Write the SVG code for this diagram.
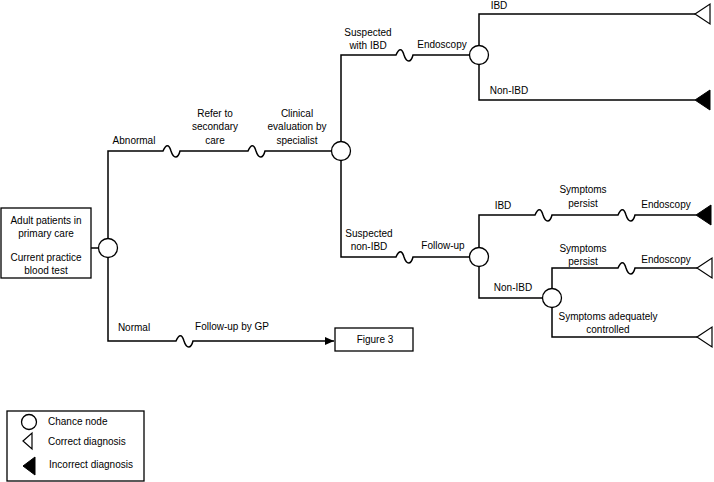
<svg xmlns="http://www.w3.org/2000/svg" width="714" height="482" viewBox="0 0 714 482">
<defs>
<style>
text{font-family:"Liberation Sans",Arial,sans-serif;font-size:10px;fill:#000;text-anchor:middle}
.l{text-anchor:start}
.ln{fill:none;stroke:#000;stroke-width:1.5}
.box{fill:#fff;stroke:#000;stroke-width:1.3}
.chance{fill:#fff;stroke:#000;stroke-width:1.3}
.ok{fill:#fff;stroke:#000;stroke-width:1.2}
.bad{fill:#000;stroke:#000;stroke-width:1}
</style>
<marker id="arr" markerWidth="10" markerHeight="8" refX="9" refY="4" orient="auto" markerUnits="userSpaceOnUse">
<path d="M0,0 L9,4 L0,8 Z" fill="#000"/>
</marker>
</defs>
<rect width="714" height="482" fill="#fff"/>

<g id="connectors">
<path class="ln" d="M91,248 H99"/>
<path class="ln" d="M108,239 V151 H163 c3,-7 6,-7 8,0 c2.5,8 7,8 9,0 H248 c3,-7 6,-7 8,0 c2.5,8 7,8 9,0 H331"/>
<path class="ln" d="M108,257 V341 H176 c3,-7 6,-7 8,0 c2.5,8 7,8 9,0 H334" marker-end="url(#arr)"/>
<path class="ln" d="M341,142 V55 H396 c3,-7 6,-7 8,0 c2.5,8 7,8 9,0 H470"/>
<path class="ln" d="M341,160 V257 H396 c3,-7 6,-7 8,0 c2.5,8 7,8 9,0 H470"/>
<path class="ln" d="M479,46 V14 H695"/>
<path class="ln" d="M479,64 V100 H695"/>
<path class="ln" d="M479,248 V215 H535 c3,-7 6,-7 8,0 c2.5,8 7,8 9,0 H618 c3,-7 6,-7 8,0 c2.5,8 7,8 9,0 H696"/>
<path class="ln" d="M479,266 V298 H543"/>
<path class="ln" d="M552,289 V268 H618 c3,-7 6,-7 8,0 c2.5,8 7,8 9,0 H697"/>
<path class="ln" d="M552,307 V337 H697"/>
</g>

<g id="root">
<rect class="box" x="1" y="208" width="90" height="70"/>
<text x="46" y="223.5">Adult patients in</text>
<text x="46" y="236.5">primary care</text>
<text x="46" y="260.5">Current practice</text>
<text x="46" y="273.5">blood test</text>
</g>

<g id="node-root">
<circle class="chance" cx="108" cy="248" r="9.5"/>
<text x="134" y="143.5">Abnormal</text>
<text x="134" y="330.5">Normal</text>
</g>

<g id="labels-abnormal">
<text x="215" y="116.5">Refer to</text>
<text x="215" y="130">secondary</text>
<text x="215" y="143.5">care</text>
<text x="297" y="116.5">Clinical</text>
<text x="297" y="130">evaluation by</text>
<text x="297" y="143.5">specialist</text>
</g>

<g id="node-specialist">
<circle class="chance" cx="341" cy="151" r="9.5"/>
<text x="368" y="35.5">Suspected</text>
<text x="368" y="49">with IBD</text>
<text x="369" y="236.5">Suspected</text>
<text x="369" y="250">non-IBD</text>
</g>

<g id="node-endoscopy">
<circle class="chance" cx="479" cy="55" r="9.5"/>
<text x="442" y="47.5">Endoscopy</text>
<text x="499" y="8.5">IBD</text>
<text x="509" y="93.5">Non-IBD</text>
</g>

<g id="node-followup">
<circle class="chance" cx="479" cy="257" r="9.5"/>
<text x="443" y="248.5">Follow-up</text>
<text x="503" y="208.5">IBD</text>
<text x="513" y="290.5">Non-IBD</text>
<text x="583" y="192.5">Symptoms</text>
<text x="583" y="206.5">persist</text>
<text x="666" y="207.5">Endoscopy</text>
</g>

<g id="node-nonibd">
<circle class="chance" cx="552" cy="298" r="9.5"/>
<text x="583" y="251.5">Symptoms</text>
<text x="583" y="264.5">persist</text>
<text x="666" y="262.5">Endoscopy</text>
<text x="608" y="319.5">Symptoms adequately</text>
<text x="608" y="332.5">controlled</text>
</g>

<g id="outcome-ibd-correct"><polygon class="ok" points="695,14 710,4 710,24"/></g>
<g id="outcome-nonibd-incorrect"><polygon class="bad" points="695,100 710,90 710,110"/></g>
<g id="outcome-fu-ibd-incorrect"><polygon class="bad" points="696,215 711,205 711,225"/></g>
<g id="outcome-persist-correct"><polygon class="ok" points="697,268 712,258 712,278"/></g>
<g id="outcome-controlled-correct"><polygon class="ok" points="697,337 712,327 712,347"/></g>

<g id="normal-path">
<text x="232" y="329.5">Follow-up by GP</text>
</g>

<g id="figure3">
<rect class="box" x="335" y="328" width="78" height="23"/>
<text x="375" y="343">Figure 3</text>
</g>

<g id="legend">
<rect class="box" x="7" y="411" width="137" height="70"/>
<circle class="chance" cx="29" cy="422" r="7.5"/>
<text class="l" x="48" y="424.5">Chance node</text>
<polygon class="ok" points="23,441 32,433 32,449"/>
<text class="l" x="48" y="445">Correct diagnosis</text>
<polygon class="bad" points="23,466 35,457 35,475"/>
<text class="l" x="49" y="468">Incorrect diagnosis</text>
</g>
</svg>
